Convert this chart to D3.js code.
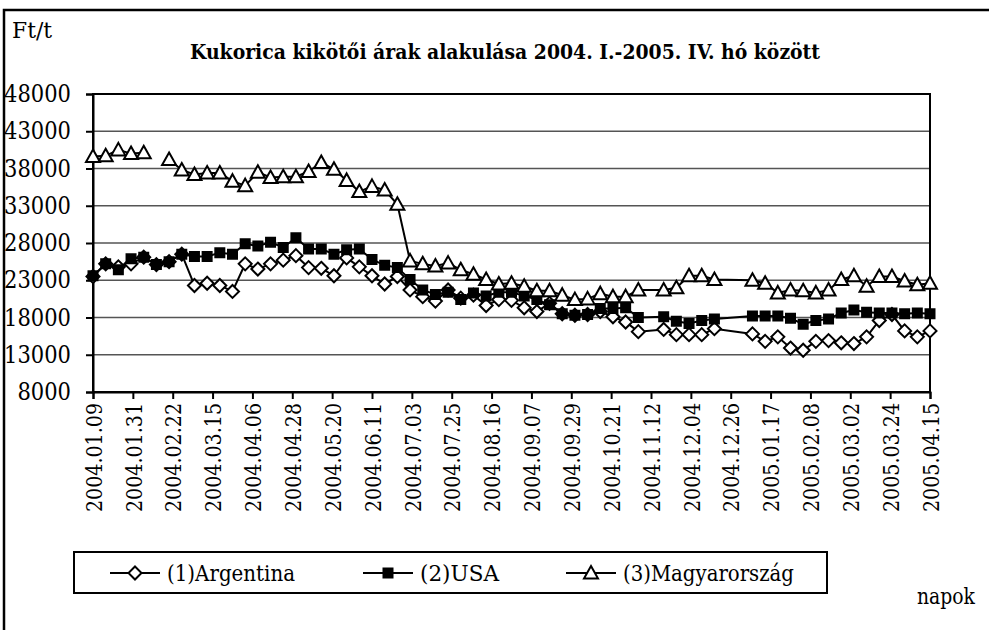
<!DOCTYPE html>
<html>
<head>
<meta charset="utf-8">
<script src="https://cdn.jsdelivr.net/npm/d3@7"></script>
<style>
  body { margin: 0; background: #fff; }
</style>
</head>
<body>
<div id="chart"></div>
<script>
// weekly quotes (Friday); 2004.11.12, 2004.12.24, 2004.12.31 are not in the table
var dates = [
  "2004.01.09","2004.01.16","2004.01.23","2004.01.30","2004.02.06","2004.02.13","2004.02.20","2004.02.27",
  "2004.03.05","2004.03.12","2004.03.19","2004.03.26","2004.04.02","2004.04.09","2004.04.16","2004.04.23",
  "2004.04.30","2004.05.07","2004.05.14","2004.05.21","2004.05.28","2004.06.04","2004.06.11","2004.06.18",
  "2004.06.25","2004.07.02","2004.07.09","2004.07.16","2004.07.23","2004.07.30","2004.08.06","2004.08.13",
  "2004.08.20","2004.08.27","2004.09.03","2004.09.10","2004.09.17","2004.09.24","2004.10.01","2004.10.08",
  "2004.10.15","2004.10.22","2004.10.29","2004.11.05","2004.11.19","2004.11.26","2004.12.03","2004.12.10",
  "2004.12.17","2005.01.07","2005.01.14","2005.01.21","2005.01.28","2005.02.04","2005.02.11","2005.02.18",
  "2005.02.25","2005.03.04","2005.03.11","2005.03.18","2005.03.25","2005.04.01","2005.04.08","2005.04.15"
];

var argentina = [
  23500,25200,24800,25200,26100,25100,25500,26500,22300,22600,22300,21500,25200,24500,25200,25700,
  26300,24700,24600,23600,26000,24800,23600,22500,23500,21700,20800,20200,21700,20600,21000,19600,
  20400,20300,19300,18800,19900,18500,18300,18400,18800,18100,17400,16100,16400,15700,15700,15700,
  16500,15800,14800,15400,13900,13600,14800,14900,14600,14500,15400,17600,18400,16200,15400,16200
];

var usa = [
  23600,25200,24400,25900,26100,25100,25500,26500,26200,26200,26700,26500,27900,27600,28100,27400,
  28700,27200,27200,26500,27100,27200,25800,25000,24700,23100,21700,21100,21400,20400,21300,20900,
  21400,21400,20900,20400,19700,18500,18300,18400,19200,19200,19300,18000,18100,17500,17200,17600,
  17800,18200,18200,18200,17900,17100,17600,17800,18600,19000,18700,18600,18600,18500,18600,18500
];

var magyar = [
  39600,39700,40500,40000,40100,null,39200,37800,37200,37400,37400,36300,35700,37500,36800,36900,
  36900,37600,38800,37900,36400,34900,35600,35100,33200,25600,25200,24900,25300,24400,23800,23100,
  22500,22600,22200,21600,21600,21000,20400,20500,21200,20800,20800,21700,21700,22000,23600,23600,
  23100,23000,22600,21300,21700,21600,21300,21700,23100,23600,22200,23500,23500,22900,22400,22600
];

var tickLabels = [
  "2004.01.09","2004.01.31","2004.02.22","2004.03.15","2004.04.06","2004.04.28","2004.05.20","2004.06.11",
  "2004.07.03","2004.07.25","2004.08.16","2004.09.07","2004.09.29","2004.10.21","2004.11.12","2004.12.04",
  "2004.12.26","2005.01.17","2005.02.08","2005.03.02","2005.03.24","2005.04.15"
];
var yTicks = [8000, 13000, 18000, 23000, 28000, 33000, 38000, 43000, 48000];

var seriesNames = ["(1)Argentina", "(2)USA", "(3)Magyarország"];

var W = 989, H = 630;
var plot = {left: 93, right: 930, top: 94, bottom: 392};
var FONT = "DejaVu Serif";

var parse = d3.timeParse("%Y.%m.%d");
var fmt = d3.timeFormat("%Y.%m.%d");

var svg = d3.select("#chart")
  .append("svg")
    .attr("width", W)
    .attr("height", H);

svg.append("rect").attr("width", W).attr("height", H).attr("fill", "#fff");

// outer frame (cut off at right / bottom)
svg.append("path")
  .attr("d", "M4," + H + "V10H" + W)
  .attr("fill", "none").attr("stroke", "#000").attr("stroke-width", 2.5);

var x = d3.scaleTime()
  .domain([parse(tickLabels[0]), parse(tickLabels[tickLabels.length - 1])])
  .range([plot.left, plot.right]);

var y = d3.scaleLinear()
  .domain([8000, 48000])
  .range([plot.bottom, plot.top]);

// gridlines
svg.append("g")
  .selectAll("line")
  .data(yTicks.slice(1, -1))
  .enter().append("line")
    .attr("x1", plot.left).attr("x2", plot.right)
    .attr("y1", function(d) { return y(d); })
    .attr("y2", function(d) { return y(d); })
    .attr("stroke", "#555").attr("stroke-width", 1.3);

// plot frame
svg.append("rect")
  .attr("x", plot.left).attr("y", plot.top)
  .attr("width", plot.right - plot.left).attr("height", plot.bottom - plot.top)
  .attr("fill", "none").attr("stroke", "#000").attr("stroke-width", 2);

// y axis
var yAxis = svg.append("g")
  .attr("transform", "translate(" + plot.left + ",0)")
  .call(d3.axisLeft(y).tickValues(yTicks).tickSize(7).tickPadding(15).tickFormat(d3.format("d")));
yAxis.attr("font-family", FONT).attr("font-size", 24);
yAxis.select(".domain").attr("stroke-width", 2);
yAxis.selectAll(".tick line").attr("stroke-width", 2);
yAxis.selectAll("text")
  .attr("textLength", function(d) { return String(d).length * 13.4; })
  .attr("lengthAdjust", "spacingAndGlyphs");

// x axis
var xAxis = svg.append("g")
  .attr("transform", "translate(0," + plot.bottom + ")")
  .call(d3.axisBottom(x).tickValues(tickLabels.map(parse)).tickSize(7).tickFormat(fmt));
xAxis.attr("font-family", FONT).attr("font-size", 23);
xAxis.select(".domain").attr("stroke-width", 2);
xAxis.selectAll(".tick line").attr("stroke-width", 2);
xAxis.selectAll("text")
  .attr("text-anchor", "end")
  .attr("transform", "rotate(-90)")
  .attr("textLength", 109)
  .attr("lengthAdjust", "spacingAndGlyphs")
  .attr("x", -11).attr("y", 0).attr("dy", "0.36em");

var series = [argentina, usa, magyar].map(function(vals, k) {
  return {
    name: seriesNames[k],
    k: k,
    values: dates.map(function(d, i) { return {date: parse(d), v: vals[i]}; })
  };
});

var line = d3.line()
  .defined(function(d) { return d.v != null; })
  .x(function(d) { return x(d.date); })
  .y(function(d) { return y(d.v); });

var diamond = "M0,-6.5L6.5,0L0,6.5L-6.5,0Z";
var square = "M-4.5,-4.5H4.5V4.5H-4.5Z";
var tri = "M0,-7L7,5.5H-7Z";

function marker(sel, k) {
  sel.append("path")
    .attr("d", k === 0 ? diamond : k === 1 ? square : tri)
    .attr("fill", k === 1 ? "#000" : "#fff")
    .attr("stroke", "#000")
    .attr("stroke-width", 2)
    .attr("stroke-linejoin", "miter");
}

series.forEach(function(s) {
  svg.append("path")
    .datum(s.values)
    .attr("fill", "none")
    .attr("stroke", "#000")
    .attr("stroke-width", 2)
    .attr("d", line);
});

series.forEach(function(s) {
  svg.append("g")
    .selectAll("g")
    .data(s.values.filter(function(d) { return d.v != null; }))
    .enter().append("g")
      .attr("transform", function(d) { return "translate(" + x(d.date) + "," + y(d.v) + ")"; })
      .each(function() { marker(d3.select(this), s.k); });
});

function label(parent, xp, yp, size, str, len) {
  return parent.append("text")
    .attr("x", xp).attr("y", yp)
    .attr("font-family", FONT).attr("font-size", size)
    .attr("fill", "#000")
    .attr("textLength", len)
    .attr("lengthAdjust", "spacingAndGlyphs")
    .text(str);
}

// titles
label(svg, 12, 38, 22, "Ft/t", 40);
label(svg, 190, 59, 21, "Kukorica kikötői árak alakulása 2004. I.-2005. IV. hó között", 630)
  .attr("font-weight", "bold");
label(svg, 917, 604, 22, "napok", 58);

// legend
var legend = svg.append("g");
legend.append("rect")
  .attr("x", 74).attr("y", 552).attr("width", 753).attr("height", 41)
  .attr("fill", "#fff").attr("stroke", "#000").attr("stroke-width", 2);

var legendX = [110, 363, 566];
var legendLen = [128, 79, 171];
series.forEach(function(s, k) {
  var g = legend.append("g").attr("transform", "translate(" + legendX[k] + ",573)");
  g.append("line").attr("x1", 0).attr("x2", 50).attr("stroke", "#000").attr("stroke-width", 2);
  marker(g.append("g").attr("transform", "translate(25,0)"), k);
  label(g, 57, 8, 22, s.name, legendLen[k]);
});
</script>
</body>
</html>
